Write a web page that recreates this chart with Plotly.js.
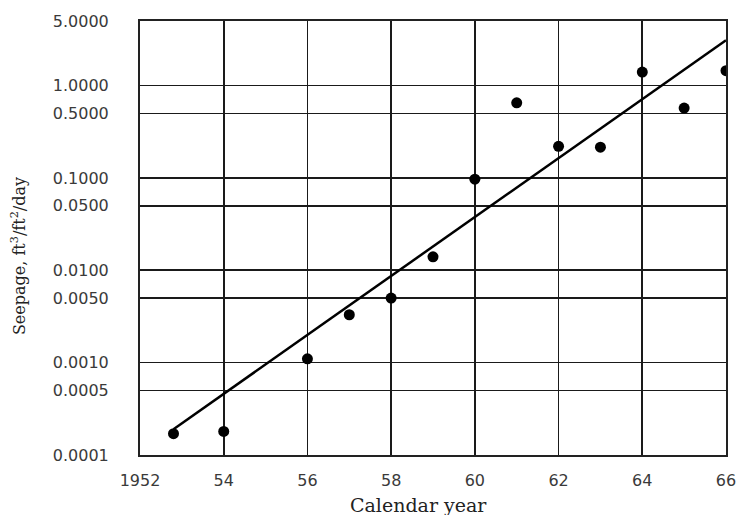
<!DOCTYPE html>
<html>
<head>
<meta charset="utf-8">
<script src="https://cdn.plot.ly/plotly-3.0.1.min.js"></script>
<style>html,body{margin:0;padding:0;background:#fff;}#chart{width:737px;height:515px;}</style>
</head>
<body>
<div id="chart"></div>
<script>
// Observed seepage (calendar year, ft3/ft2/day)
var years = [52.8, 54, 56, 57, 58, 59, 60, 61, 62, 63, 64, 65, 66];
var seepage = [0.00017, 0.00018, 0.0011, 0.0033, 0.005, 0.014, 0.097, 0.65, 0.22, 0.215, 1.4, 0.57, 1.45];
// Fitted trend line end points
var trendYears = [52.8, 66];
var trendSeepage = [0.00019, 3.1];
// Axis ticks
var xTickVals = [52, 54, 56, 58, 60, 62, 64, 66];
var xTickText = ['1952', '54', '56', '58', '60', '62', '64', '66'];
var yTickVals = [0.0001, 0.0005, 0.001, 0.005, 0.01, 0.05, 0.1, 0.5, 1, 5];
var yTickText = ['0.0001', '0.0005', '0.0010', '0.0050', '0.0100', '0.0500', '0.1000', '0.5000', '1.0000', '5.0000'];
var yTitle = 'Seepage, ft<sup>3</sup>/ft<sup>2</sup>/day';
var xTitle = 'Calendar year';

var traces = [
  {x: trendYears, y: trendSeepage, mode: 'lines', type: 'scatter',
   line: {color: '#000', width: 2.5}, hoverinfo: 'skip', showlegend: false},
  {x: years, y: seepage, mode: 'markers', type: 'scatter',
   marker: {color: '#000', size: 11, symbol: 'circle'}, showlegend: false}
];

var layout = {
  width: 737, height: 515,
  margin: {l: 140, r: 11, t: 21, b: 60},
  paper_bgcolor: '#fff', plot_bgcolor: '#fff',
  showlegend: false,
  xaxis: {
    range: [52, 66], tickmode: 'array', tickvals: xTickVals, ticktext: xTickText,
    showgrid: true, gridcolor: '#1a1a1a', gridwidth: 1.7,
    showline: true, linecolor: '#222', linewidth: 2, mirror: true,
    zeroline: false, ticks: '', ticklabelstandoff: 10,
    tickfont: {family: 'DejaVu Sans', size: 16, color: '#3a3a3a'}
  },
  yaxis: {
    type: 'log', range: [-4, Math.log10(5)], tickmode: 'array',
    tickvals: yTickVals, ticktext: yTickText,
    showgrid: true, gridcolor: '#1a1a1a', gridwidth: 1.7,
    showline: true, linecolor: '#222', linewidth: 2, mirror: true,
    zeroline: false, ticks: '', ticklabelstandoff: 26,
    tickfont: {family: 'DejaVu Sans', size: 16, color: '#3a3a3a'}
  },
  annotations: [{
    text: yTitle, textangle: -90, showarrow: false,
    xref: 'paper', yref: 'paper', x: -0.208, y: 0.4585,
    xanchor: 'center', yanchor: 'middle',
    font: {family: 'DejaVu Serif', size: 16, color: '#222'}
  }, {
    text: xTitle, showarrow: false,
    xref: 'paper', yref: 'paper', x: 0.476, y: -0.115,
    xanchor: 'center', yanchor: 'middle',
    font: {family: 'DejaVu Serif', size: 19, color: '#222'}
  }]
};

Plotly.newPlot('chart', traces, layout, {displayModeBar: false, staticPlot: true});
</script>
</body>
</html>
